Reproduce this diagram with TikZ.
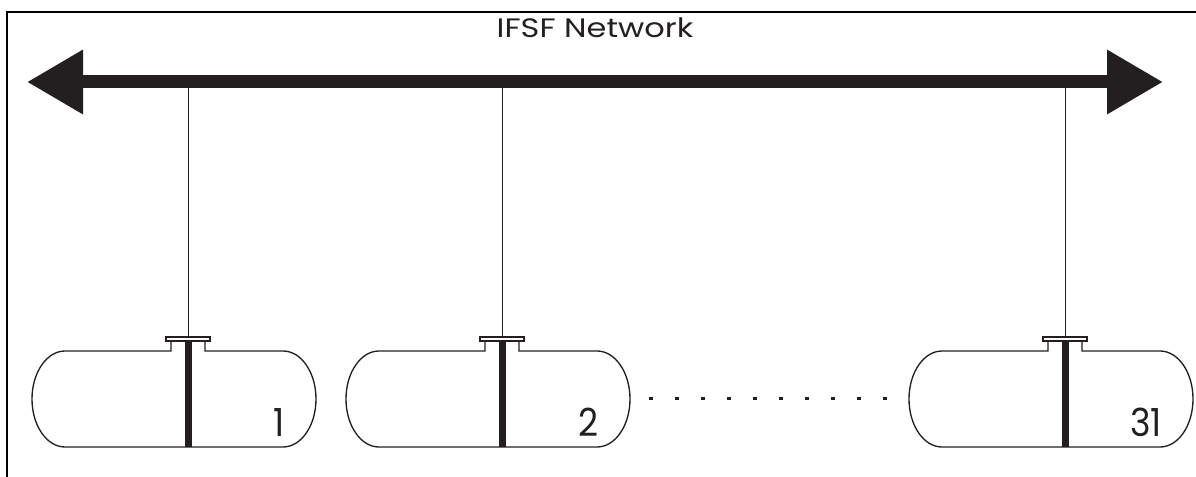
\documentclass[tikz,border=0pt]{standalone}
\usepackage{fontspec}
\setmainfont{Poppins}
\newfontfamily\titlefont[FakeStretch=1.2]{Poppins}
\newfontfamily\digitfont[FakeStretch=0.9]{Poppins}
\usetikzlibrary{arrows.meta}
\definecolor{ink}{HTML}{231F20}
\tikzset{
  tankline/.style={draw=ink, line width=1pt},
  drop/.style={draw=ink, line width=0.75pt},
  frame/.style={draw=black, line width=1.6pt},
  netarrow/.style={draw=ink, line width=9.75pt,
    {Triangle[length=42pt,width=45.75pt]}-{Triangle[length=42pt,width=45.75pt]}},
  tanklabel/.style={anchor=base east, inner sep=0pt, font=\digitfont\fontsize{29}{29}\selectfont, text=ink},
  nettitle/.style={anchor=base, inner sep=0pt, font=\titlefont\fontsize{20}{20}\selectfont, text=ink},
}
\begin{document}
\begin{tikzpicture}[x=0.75pt,y=0.75pt]
\useasboundingbox (0,0) rectangle (1196,476);
\clip (0,0) rectangle (1196,476);
\fill[white] (0,0) rectangle (1196,476);
% frame
\draw[frame] (7,-20) -- (7,464) -- (1230,464);
% network
\coordinate (netL) at (27,394);
\coordinate (netR) at (1163,394);
\draw[netarrow] (netL) -- (netR);
\node[nettitle] (ttl) at (595,438) {IFSF Network};
% tanks
\foreach \L/\lab/\nm in {32/1/t1, 346/2/t2, 909/31/t3}{
  \pgfmathsetmacro{\R}{\L+284}
  \pgfmathsetmacro{\N}{\L+156}
  \coordinate (\nm-top) at (\N,394);
  \coordinate (\nm-fl) at (\N,139);
  \draw[tankline] (\N-17,135) -- (\N-17,125) -- (\L+33,125)
     arc[start angle=90,end angle=270,x radius=24.75pt,y radius=36pt]
     -- (\R-33,29)
     arc[start angle=-90,end angle=90,x radius=24.75pt,y radius=36pt]
     -- (\N+17,125) -- (\N+17,135);
  \fill[ink] (\N-3.5,29) rectangle (\N+3.5,135);
  \draw[tankline, fill=white] (\N-22,135) rectangle (\N+22,139);
  \draw[drop] (\nm-top) -- (\nm-fl);
  \node[tanklabel] (\nm-lab) at (\R-31,40) {\lab};
}
% dots between tank 2 and tank 31
\coordinate (dotsA) at (649,78);
\coordinate (dotsB) at (889,78);
\draw[ink, line width=2.25pt, dash pattern=on 3pt off 16.5pt] (dotsA) -- (dotsB);
\end{tikzpicture}
\end{document}
